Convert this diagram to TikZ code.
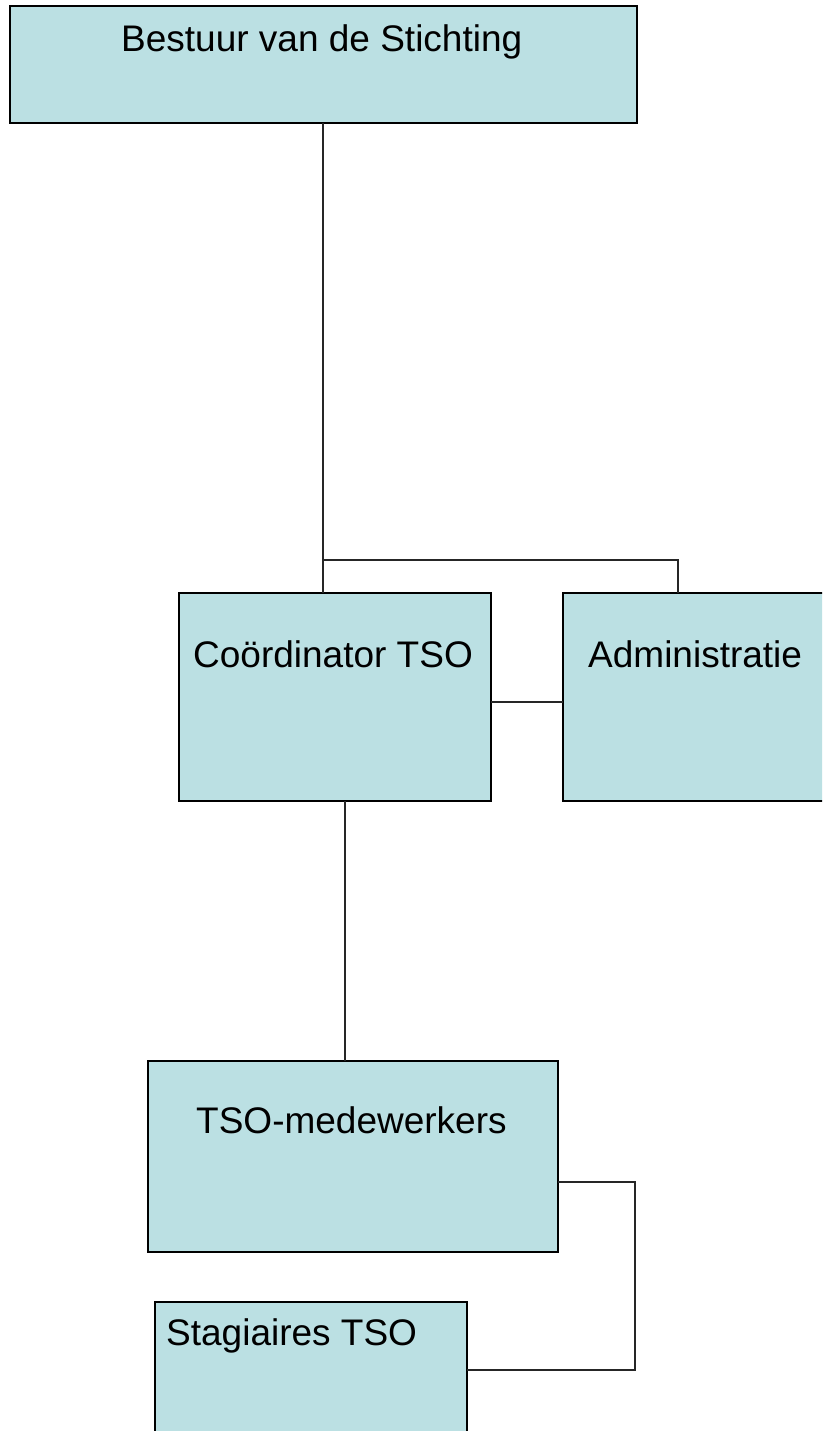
\documentclass[tikz,border=0pt]{standalone}
\usepackage{fontspec}
\setmainfont{Liberation Sans}
\definecolor{boxfill}{RGB}{187,224,227}
\begin{document}
\begin{tikzpicture}[x=1pt,y=-1pt,
  orgbox/.style={draw=black,line width=2pt,fill=boxfill,inner sep=0pt,outer sep=0pt},
  lbl/.style={anchor=base west,inner sep=0pt,font=\fontsize{37}{44}\selectfont},
  conn/.style={draw=black!85,line width=1.6pt}]
\useasboundingbox (0,0) rectangle (822,1431);
\clip (0,0) rectangle (822,1431);
% boxes
\node[orgbox,minimum width=627pt,minimum height=117pt] (bestuur) at (323.5,64.5) {};
\node[orgbox,minimum width=312pt,minimum height=208pt] (coord) at (335,697) {};
\node[orgbox,minimum width=312pt,minimum height=208pt] (admin) at (719,697) {};
\node[orgbox,minimum width=410pt,minimum height=191pt] (tso) at (353,1156.5) {};
\node[orgbox,minimum width=312pt,minimum height=190pt] (stag) at (311,1397) {};
% labels
\node[lbl] (tbestuur) at (121,52) {Bestuur van de Stichting};
\node[lbl] (tcoord) at (193,667) {Coördinator TSO};
\node[lbl] (tadmin) at (588,667) {Administratie};
\node[lbl] (ttso) at (196,1133) {TSO-medewerkers};
\node[lbl] (tstag) at (166,1345) {Stagiaires TSO};
% connectors
\coordinate (j1) at (323,560);
\coordinate (j2) at (678,560);
\coordinate (ca) at (520,702);
\coordinate (cx) at (345,900);
\coordinate (t1) at (635,1182);
\coordinate (t2) at (635,1370);
\draw[conn] (bestuur.south -| j1) -- (coord.north -| j1);
\draw[conn] (j1) -- (j2) -- (j2 |- admin.north);
\draw[conn] (coord.east |- ca) -- (admin.west |- ca);
\draw[conn] (coord.south -| cx) -- (tso.north -| cx);
\draw[conn] (tso.east |- t1) -- (t1) -- (t2) -- (stag.east |- t2);
\end{tikzpicture}
\end{document}
